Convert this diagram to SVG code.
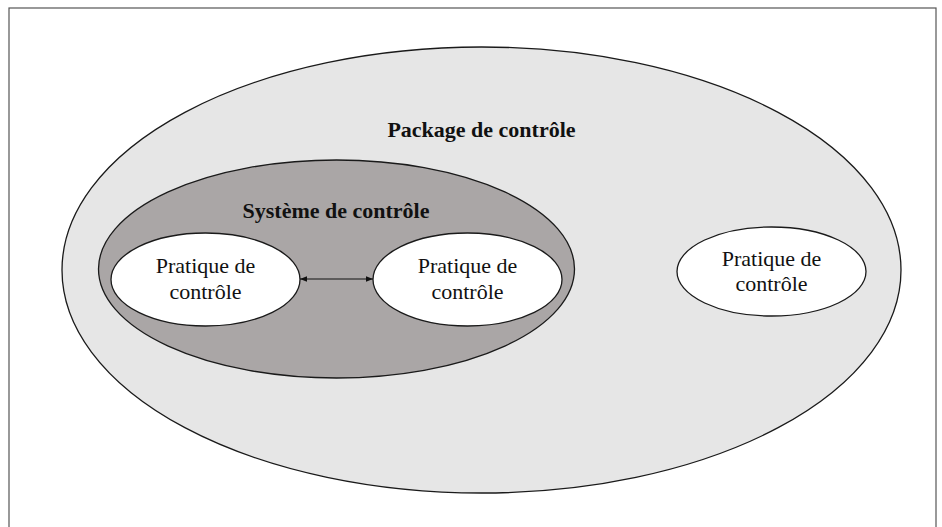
<svg xmlns="http://www.w3.org/2000/svg" width="942" height="527" viewBox="0 0 942 527">
<style>
.e{stroke:#1a1a1a;stroke-width:1.3}
.t{font-family:"Liberation Serif","Times New Roman",serif;font-size:22px;fill:#111;text-anchor:middle}
.b{font-weight:bold}
</style>
<defs>
<marker id="ah" viewBox="0 0 10 10" refX="10" refY="5" markerWidth="7" markerHeight="7" orient="auto-start-reverse" markerUnits="userSpaceOnUse">
<path d="M0,1 L10,5 L0,9 z" fill="#111"/>
</marker>
</defs>
<rect x="0" y="0" width="942" height="527" fill="#fff"/>
<rect x="9" y="8" width="927" height="530" fill="none" stroke="#555" stroke-width="1.2"/>
<g id="package">
<ellipse class="e" cx="481.5" cy="270" rx="419.5" ry="223" fill="#e6e6e6"/>
<text class="t b" x="481.5" y="137">Package de contrôle</text>
</g>
<g id="systeme">
<ellipse class="e" cx="336.5" cy="269" rx="238" ry="109" fill="#aaa6a6"/>
<text class="t b" x="336" y="218">Système de contrôle</text>
</g>
<g id="pratique1">
<ellipse class="e" cx="205.5" cy="279.5" rx="94.5" ry="46.5" fill="#fff"/>
<text class="t" x="205.5" y="273">Pratique de</text>
<text class="t" x="205.5" y="299">contrôle</text>
</g>
<g id="pratique2">
<ellipse class="e" cx="467.5" cy="279.5" rx="94.5" ry="46.5" fill="#fff"/>
<text class="t" x="467.5" y="273">Pratique de</text>
<text class="t" x="467.5" y="299">contrôle</text>
</g>
<g id="pratique3">
<ellipse class="e" cx="771.5" cy="271.5" rx="94.5" ry="44.5" fill="#fff"/>
<text class="t" x="771.5" y="266">Pratique de</text>
<text class="t" x="771.5" y="291">contrôle</text>
</g>
<g id="connectors">
<line x1="300" y1="279" x2="373" y2="279" stroke="#111" stroke-width="1.2" marker-start="url(#ah)" marker-end="url(#ah)"/>
</g>
</svg>
